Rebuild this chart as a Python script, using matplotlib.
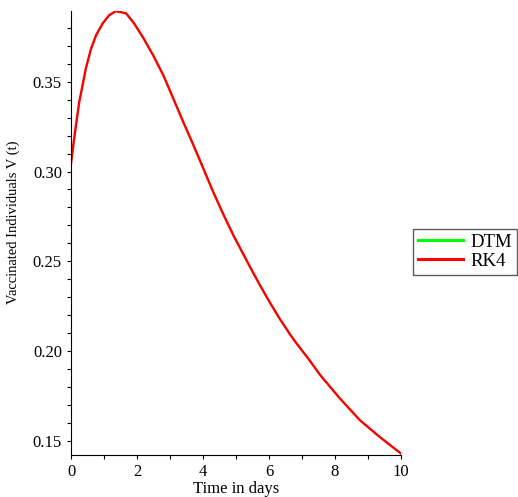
import numpy as np
import matplotlib
matplotlib.use('Agg')
import matplotlib.pyplot as plt
from matplotlib.ticker import MultipleLocator

# values (DTM and RK4 coincide)
t = [0.0, 0.07, 0.15, 0.25, 0.35, 0.45, 0.61, 0.76, 0.96, 1.16, 1.36, 1.67,
     1.92, 2.19, 2.49, 2.8, 3.1, 3.4, 3.71, 4.01, 4.31, 4.62, 4.92, 5.12,
     5.42, 5.73, 6.03, 6.33, 6.64, 6.79, 7.24, 7.55, 8.15, 8.76, 9.36, 10.0]
v_dtm = [0.3045, 0.3147, 0.3258, 0.3388, 0.348, 0.3575, 0.3686, 0.376,
         0.3826, 0.3872, 0.3894, 0.3882, 0.3824, 0.3745, 0.3648, 0.3536,
         0.3407, 0.3277, 0.3147, 0.3017, 0.2886, 0.2760, 0.2645, 0.2575,
         0.2470, 0.2365, 0.2269, 0.2178, 0.2092, 0.2053, 0.1945, 0.1866,
         0.1735, 0.1613, 0.152, 0.1428]
v_rk4 = list(v_dtm)

plt.rcParams['font.family'] = ['Liberation Serif', 'DejaVu Serif']

fig = plt.figure(figsize=(5.18, 4.97), dpi=100)
ax = fig.add_axes([71/518, 1 - 455/497, 330/518, 444/497])

ax.plot(t, v_dtm, color='#00ff00', lw=1.0, label='DTM')
ax.plot(t, v_rk4, color='#ff0000', lw=1.7, label='RK4')

ax.set_xlim(0, 10)
ax.set_ylim(0.142, 0.3895)
ax.xaxis.set_major_locator(MultipleLocator(2))
ax.xaxis.set_minor_locator(MultipleLocator(1))
ax.yaxis.set_major_locator(MultipleLocator(0.05))
ax.yaxis.set_minor_locator(MultipleLocator(0.01))
ax.yaxis.set_major_formatter(plt.FormatStrFormatter('%.2f'))
ax.tick_params(which='both', direction='out', length=3, width=0.8, labelsize=12)
ax.spines['top'].set_visible(False)
ax.spines['right'].set_visible(False)

ax.set_xlabel('Time in days', fontsize=12, labelpad=1)
ax.set_ylabel('Vaccinated Individuals V (t)', fontsize=10.5)
ax.yaxis.set_label_coords(-0.155, 0.525)

leg = fig.legend(loc='upper left', bbox_to_anchor=(413/518, 1 - 229/497),
                 fontsize=13.5, frameon=True, fancybox=False, handlelength=2.4,
                 borderpad=0.25, labelspacing=0.1, handletextpad=0.4,
                 borderaxespad=0)
leg.get_frame().set_edgecolor('#333333')
leg.get_frame().set_linewidth(1)
for h in leg.get_lines():
    h.set_linewidth(2.2)

fig.savefig('out.png', dpi=100)
